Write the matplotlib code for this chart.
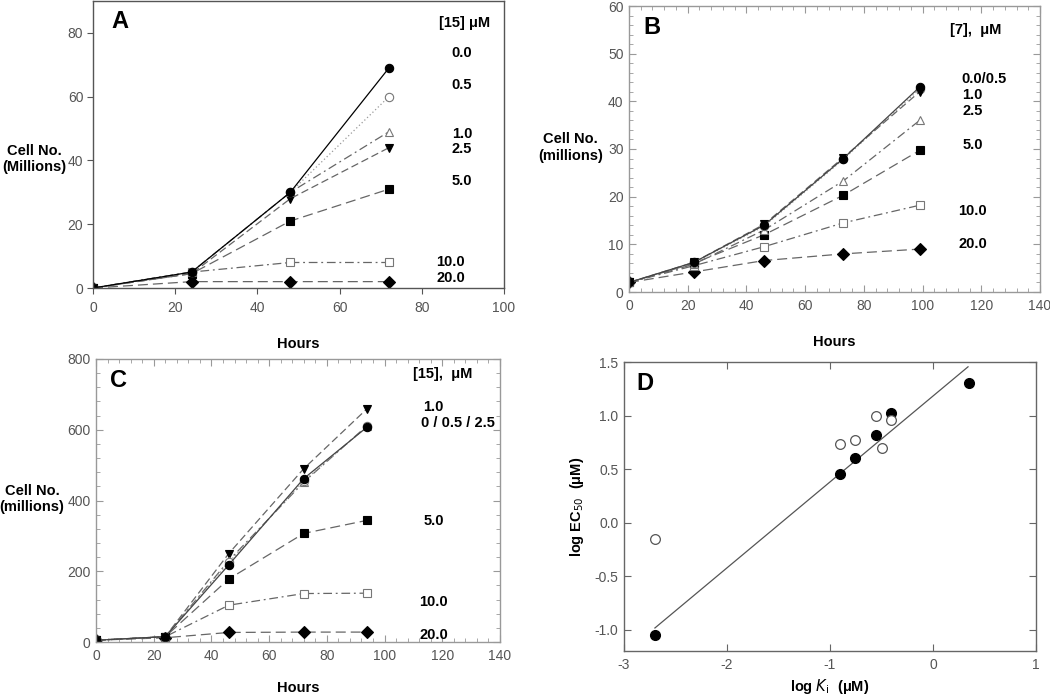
import numpy as np
import matplotlib
matplotlib.use('Agg')
from matplotlib import pyplot as plt
from matplotlib.ticker import MultipleLocator

plt.rcParams['font.family'] = ['Liberation Sans', 'DejaVu Sans']

# panel A: [15] uM, hours 0-72
hours_a = [0, 24, 48, 72]
a_00 = [0, 5, 30, 69]
a_05 = [0, 5, 30, 60]
a_10 = [0, 5, 30, 49]
a_25 = [0, 4.5, 28, 44]
a_50 = [0, 4.5, 21, 31]
a_100 = [0, 5, 8, 8]
a_200 = [0, 2, 2, 2]

# panel B: [7] uM
hours_b = [0, 22, 46, 73, 99]
b_00 = [2, 6.2, 14, 28, 43]
b_05 = [2, 6.1, 13.8, 27.8, 42.6]
b_10 = [2, 6.2, 14.2, 28.2, 42]
b_25 = [2, 5.8, 13, 23.3, 36]
b_50 = [2, 6, 12, 20.3, 29.7]
b_100 = [2, 5.5, 9.5, 14.5, 18.2]
b_200 = [2, 4.2, 6.6, 8, 9]

# panel C: [15] uM
hours_c = [0, 24, 46, 72, 94]
c_10 = [5, 15, 250, 490, 660]
c_00 = [5, 15, 218, 462, 608]
c_05 = [5, 15, 225, 455, 610]
c_25 = [5, 15, 230, 452, 612]
c_50 = [5, 15, 178, 307, 344]
c_100 = [5, 15, 104, 137, 138]
c_200 = [5, 12, 27, 28, 28]

# panel D: log Ki vs log EC50
d_filled_x = [-2.7, -0.9, -0.76, -0.55, -0.41, 0.35]
d_filled_y = [-1.05, 0.45, 0.6, 0.82, 1.02, 1.3]
d_open_x = [-2.7, -0.9, -0.76, -0.55, -0.41, -0.5]
d_open_y = [-0.15, 0.73, 0.77, 1.0, 0.96, 0.7]
d_fit_x = [-2.7, 0.34]
d_fit_y = [-0.985, 1.455]

W, H = 1050, 698
fig = plt.figure(figsize=(W / 100, H / 100), dpi=100)


def make_ax(l, t, r, b):
    return fig.add_axes([l / W, 1 - b / H, (r - l) / W, (b - t) / H])


tick_col = '#555555'
lab_fs = 10.5


def series(ax, x, y, marker, fill, ls, col='#666666', ms=6):
    mfc = 'black' if fill else 'white'
    mec = 'black' if fill else '#777777'
    ax.plot(x, y, linestyle=ls, color=col, lw=0.9, marker=marker, ms=ms,
            mfc=mfc, mec=mec, mew=0.8)


def style_ax(ax, spine_col, out=False):
    for s in ax.spines.values():
        s.set_color(spine_col)
        s.set_linewidth(1.0)
    ax.tick_params(which='both', labelsize=10, labelcolor=tick_col, color=spine_col)
    if out:
        ax.tick_params(direction='out', length=4, top=False, right=False)
        ax.tick_params(axis='x', pad=5)
        ax.tick_params(axis='y', pad=3)
    else:
        ax.tick_params(which='both', direction='in', top=True, right=True)
        ax.tick_params(which='major', length=5)
        ax.tick_params(which='minor', length=3)
        ax.tick_params(axis='x', pad=5)
        ax.tick_params(axis='y', pad=4)


long_dash = (0, (8, 4))
dash = (0, (6, 3))
dashdot = (0, (7, 3, 1.5, 3))
dot = (0, (1, 2))

# ---------------- A
ax = make_ax(93, 1, 504, 288)
series(ax, hours_a, a_200, 'D', True, long_dash)
series(ax, hours_a, a_100, 's', False, dashdot)
series(ax, hours_a, a_50, 's', True, long_dash)
series(ax, hours_a, a_25, 'v', True, dash)
series(ax, hours_a, a_10, '^', False, dashdot)
series(ax, hours_a, a_05, 'o', False, dot, col='#999999')
series(ax, hours_a, a_00, 'o', True, '-', col='black')
ax.set_xlim(0, 100)
ax.set_ylim(0, 90)
ax.set_xticks([0, 20, 40, 60, 80, 100])
ax.set_yticks([0, 20, 40, 60, 80])
style_ax(ax, '#555555', out=True)
ax.set_xlabel('Hours', fontsize=lab_fs, fontweight='bold', labelpad=16)
ax.set_ylabel('Cell No.\n(Millions)', fontsize=lab_fs, fontweight='bold',
              rotation=0, ha='center', va='center')
ax.yaxis.set_label_coords(-0.143, 0.45)
ax.text(0.045, 0.97, 'A', transform=ax.transAxes, fontsize=17,
        fontweight='bold', va='top')
labs_a = [('[15] \u03bcM', 83, 90.5), ('0.0', 73.6, 89.8), ('0.5', 63.6, 89.8),
          ('1.0', 48.2, 89.8), ('2.5', 43.5, 89.8), ('5.0', 33.5, 89.8),
          ('10.0', 8.2, 87), ('20.0', 3.1, 87)]
for t, y, x in labs_a:
    ax.text(x, y, t, fontsize=10.5, fontweight='bold', ha='center', va='center')

# ---------------- B
ax = make_ax(629, 6, 1040, 292)
series(ax, hours_b, b_200, 'D', True, long_dash)
series(ax, hours_b, b_100, 's', False, dashdot)
series(ax, hours_b, b_50, 's', True, long_dash)
series(ax, hours_b, b_25, '^', False, dashdot)
series(ax, hours_b, b_05, 'o', False, dot, col='#999999')
series(ax, hours_b, b_10, 'v', True, dash)
series(ax, hours_b, b_00, 'o', True, '-', col='#444444')
ax.set_xlim(0, 140)
ax.set_ylim(0, 60)
ax.set_xticks(range(0, 141, 20))
ax.set_yticks(range(0, 61, 10))
ax.xaxis.set_minor_locator(MultipleLocator(4))
ax.yaxis.set_minor_locator(MultipleLocator(2))
style_ax(ax, '#999999')
ax.set_xlabel('Hours', fontsize=lab_fs, fontweight='bold', labelpad=16)
ax.set_ylabel('Cell No.\n(millions)', fontsize=lab_fs, fontweight='bold',
              rotation=0, ha='center', va='center')
ax.yaxis.set_label_coords(-0.143, 0.505)
ax.text(0.035, 0.965, 'B', transform=ax.transAxes, fontsize=17,
        fontweight='bold', va='top')
labs_b = [('[7],  \u03bcM', 55, 118), ('0.0/0.5', 44.6, 121), ('1.0', 41.3, 117),
          ('2.5', 37.9, 117), ('5.0', 30.9, 117), ('10.0', 17, 117),
          ('20.0', 10.1, 117)]
for t, y, x in labs_b:
    ax.text(x, y, t, fontsize=10.5, fontweight='bold', ha='center', va='center')

# ---------------- C
ax = make_ax(96, 359, 500, 642)
series(ax, hours_c, c_200, 'D', True, long_dash)
series(ax, hours_c, c_100, 's', False, dashdot)
series(ax, hours_c, c_50, 's', True, long_dash)
series(ax, hours_c, c_10, 'v', True, dash)
series(ax, hours_c, c_25, '^', False, dashdot)
series(ax, hours_c, c_05, 'o', False, dot, col='#999999')
series(ax, hours_c, c_00, 'o', True, '-', col='#444444')
ax.set_xlim(0, 140)
ax.set_ylim(0, 800)
ax.set_xticks(range(0, 141, 20))
ax.set_yticks(range(0, 801, 200))
ax.xaxis.set_minor_locator(MultipleLocator(4))
ax.yaxis.set_minor_locator(MultipleLocator(40))
style_ax(ax, '#999999')
ax.set_xlabel('Hours', fontsize=lab_fs, fontweight='bold', labelpad=13)
ax.set_ylabel('Cell No.\n(millions)', fontsize=lab_fs, fontweight='bold',
              rotation=0, ha='center', va='center')
ax.yaxis.set_label_coords(-0.158, 0.505)
ax.text(0.035, 0.965, 'C', transform=ax.transAxes, fontsize=17,
        fontweight='bold', va='top')
labs_c = [('[15],  \u03bcM', 758, 120), ('1.0', 664, 117), ('0 / 0.5 / 2.5', 619, 125.5),
          ('5.0', 342, 117), ('10.0', 114, 117), ('20.0', 20, 117)]
for t, y, x in labs_c:
    ax.text(x, y, t, fontsize=10.5, fontweight='bold', ha='center', va='center')

# ---------------- D
ax = make_ax(624, 362, 1036, 651)
ax.plot(d_fit_x, d_fit_y, color='#555555', lw=0.9)
ax.plot(d_filled_x, d_filled_y, 'o', ms=7, mfc='black', mec='black', ls='none')
ax.plot(d_open_x, d_open_y, 'o', ms=7, mfc='white', mec='#555555', mew=0.9, ls='none')
ax.set_xlim(-3, 1)
ax.set_ylim(-1.2, 1.5)
ax.set_xticks([-3, -2, -1, 0, 1])
ax.set_yticks([-1.0, -0.5, 0.0, 0.5, 1.0, 1.5])
ax.set_yticklabels(['-1.0', '-0.5', '0.0', '0.5', '1.0', '1.5'])
ax.set_xticklabels(['-3', '-2', '-1', '0', '1'])
style_ax(ax, '#666666')
ax.set_xlabel('log $\\mathbf{\\mathit{K}}_{\\rm i}$  (\u03bcM)', fontsize=lab_fs,
              fontweight='bold', labelpad=4)
ax.set_ylabel('log EC$_{50}$  (\u03bcM)', fontsize=lab_fs, fontweight='bold',
              labelpad=6)
ax.text(0.03, 0.965, 'D', transform=ax.transAxes, fontsize=17,
        fontweight='bold', va='top')

fig.savefig('out.png', dpi=100)
